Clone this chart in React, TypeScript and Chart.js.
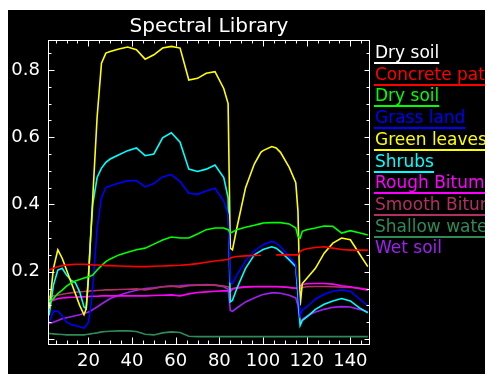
import React, { useEffect, useRef } from "react";
import { Chart, registerables } from "chart.js";

Chart.register(...registerables);

const TITLE = "Spectral Library";

const BANDS = [2, 4, 6, 8, 10, 12, 14, 16, 18, 19, 20, 21, 22, 24, 26, 28, 30, 34, 38, 42, 46, 50, 54, 58, 62, 66, 70, 74, 78, 82, 84, 85, 86, 88, 92, 96, 99, 100, 104, 106, 108, 112, 115, 116, 117, 118, 120, 124, 128, 132, 136, 140, 144, 148];

const CONCRETE_PATH = [0.205, 0.21, 0.215, 0.218, 0.22, 0.221, 0.222, 0.222, 0.222, 0.222, 0.221, 0.221, 0.22, 0.22, 0.219, 0.218, 0.218, 0.217, 0.216, 0.215, 0.215, 0.216, 0.217, 0.218, 0.219, 0.221, 0.224, 0.228, 0.232, 0.235, 0.236, 0.24, 0.243, 0.245, 0.247, 0.248, 0.249, null, null, 0.25, 0.25, 0.25, 0.25, 0.25, 0.26, 0.264, 0.268, 0.272, 0.274, 0.27, 0.266, 0.264, 0.264, 0.264];

const DRY_SOIL = [0.11, 0.12, 0.135, 0.145, 0.157, 0.166, 0.172, 0.177, 0.181, 0.183, 0.185, 0.187, 0.19, 0.205, 0.218, 0.23, 0.238, 0.25, 0.258, 0.265, 0.27, 0.282, 0.294, 0.303, 0.3, 0.3, 0.312, 0.325, 0.33, 0.33, 0.325, 0.315, 0.318, 0.325, 0.332, 0.338, 0.343, 0.345, 0.346, 0.346, 0.346, 0.342, 0.33, 0.305, 0.3, 0.32, 0.325, 0.33, 0.336, 0.335, 0.315, 0.322, 0.316, 0.309];

const GRASS_LAND = [0.05, 0.082, 0.083, 0.068, 0.05, 0.043, 0.04, 0.036, 0.032, 0.04, 0.05, 0.09, 0.15, 0.33, 0.42, 0.45, 0.455, 0.464, 0.47, 0.471, 0.452, 0.462, 0.482, 0.489, 0.468, 0.433, 0.43, 0.44, 0.448, 0.41, 0.37, 0.17, 0.165, 0.19, 0.232, 0.262, 0.275, 0.28, 0.29, 0.285, 0.275, 0.245, 0.222, 0.16, 0.07, 0.085, 0.095, 0.118, 0.133, 0.142, 0.146, 0.142, 0.12, 0.098];

const GREEN_LEAVES = [0.09, 0.21, 0.265, 0.24, 0.205, 0.17, 0.135, 0.1, 0.072, 0.09, 0.18, 0.3, 0.42, 0.66, 0.82, 0.85, 0.855, 0.862, 0.868, 0.86, 0.832, 0.845, 0.865, 0.87, 0.865, 0.77, 0.775, 0.79, 0.795, 0.745, 0.7, 0.27, 0.265, 0.33, 0.45, 0.52, 0.555, 0.56, 0.572, 0.568, 0.555, 0.51, 0.465, 0.38, 0.1, 0.165, 0.18, 0.21, 0.255, 0.285, 0.3, 0.295, 0.255, 0.215];

const SHRUBS = [0.07, 0.16, 0.205, 0.21, 0.19, 0.175, 0.168, 0.14, 0.095, 0.09, 0.18, 0.3, 0.4, 0.48, 0.508, 0.525, 0.535, 0.548, 0.56, 0.568, 0.545, 0.55, 0.598, 0.613, 0.585, 0.505, 0.498, 0.505, 0.517, 0.48, 0.42, 0.11, 0.115, 0.15, 0.21, 0.25, 0.262, 0.266, 0.274, 0.27, 0.26, 0.235, 0.215, 0.13, 0.04, 0.055, 0.065, 0.088, 0.103, 0.113, 0.12, 0.113, 0.093, 0.078];

const ROUGH_BITUMEN = [0.11, 0.115, 0.12, 0.122, 0.123, 0.124, 0.124, 0.125, 0.125, 0.126, 0.126, 0.127, 0.127, 0.127, 0.128, 0.128, 0.128, 0.128, 0.128, 0.128, 0.128, 0.129, 0.13, 0.131, 0.128, 0.134, 0.138, 0.14, 0.142, 0.143, 0.143, 0.14, 0.148, 0.152, 0.155, 0.156, 0.156, 0.156, 0.156, 0.156, 0.155, 0.153, 0.151, 0.15, 0.158, 0.162, 0.164, 0.165, 0.165, 0.163, 0.158, 0.155, 0.15, 0.145];

const SMOOTH_BITUMEN = [0.125, 0.128, 0.13, 0.133, 0.135, 0.137, 0.139, 0.14, 0.141, 0.142, 0.142, 0.143, 0.143, 0.144, 0.145, 0.146, 0.146, 0.147, 0.148, 0.149, 0.146, 0.15, 0.155, 0.157, 0.154, 0.158, 0.16, 0.16, 0.16, 0.157, 0.155, 0.147, 0.15, 0.152, 0.154, 0.155, 0.155, 0.155, 0.155, 0.155, 0.155, 0.153, 0.151, 0.15, 0.151, 0.153, 0.155, 0.156, 0.156, 0.155, 0.154, 0.153, 0.151, 0.148];

const SHALLOW_WATER = [0.016, 0.015, 0.014, 0.013, 0.012, 0.012, 0.012, 0.012, 0.012, 0.013, 0.014, 0.015, 0.016, 0.018, 0.021, 0.022, 0.023, 0.024, 0.024, 0.022, 0.014, 0.012, 0.018, 0.021, 0.019, 0.008, 0.007, 0.007, 0.007, 0.007, 0.007, 0.007, 0.007, 0.007, 0.007, 0.007, 0.007, 0.007, 0.007, 0.007, 0.007, 0.007, 0.007, 0.007, 0.007, 0.007, 0.007, 0.007, 0.007, 0.007, 0.007, 0.007, 0.007, 0.007];

const WET_SOIL = [0.045, 0.05, 0.055, 0.06, 0.063, 0.066, 0.069, 0.072, 0.076, 0.078, 0.08, 0.083, 0.087, 0.095, 0.104, 0.112, 0.12, 0.13, 0.138, 0.145, 0.15, 0.152, 0.155, 0.157, 0.158, 0.16, 0.16, 0.162, 0.16, 0.155, 0.148, 0.085, 0.082, 0.092, 0.11, 0.122, 0.13, 0.132, 0.137, 0.137, 0.136, 0.13, 0.122, 0.1, 0.05, 0.058, 0.068, 0.08, 0.088, 0.094, 0.096, 0.095, 0.088, 0.08];

const LEGEND_LABELS = ["Dry soil", "Concrete path", "Dry soil", "Grass land", "Green leaves", "Shrubs", "Rough Bitumen", "Smooth Bitumen", "Shallow water", "Wet soil"];
const LEGEND_COLORS = ["#ffffff", "#ff0000", "#00ff00", "#0000ff", "#ffff00", "#00ffff", "#ff00ff", "#b03060", "#2e8b57", "#a020f0"];
const LEGEND_UNDERLINED = [true, true, true, true, true, true, true, true, true, false];

const X_TICKS = [20, 40, 60, 80, 100, 120, 140];
const X_MINOR_TICKS = [5, 10, 15, 25, 30, 35, 45, 50, 55, 65, 70, 75, 85, 90, 95, 105, 110, 115, 125, 130, 135, 145];
const Y_TICKS = [0.2, 0.4, 0.6, 0.8];
const Y_MAJOR_MARKS = [0, 0.2, 0.4, 0.6, 0.8];
const Y_MINOR_TICKS = [0.05, 0.1, 0.15, 0.25, 0.3, 0.35, 0.45, 0.5, 0.55, 0.65, 0.7, 0.75, 0.85];

const SERIES = [
  { label: "Concrete path", values: CONCRETE_PATH, color: "#ff0000" },
  { label: "Dry soil", values: DRY_SOIL, color: "#00ff00" },
  { label: "Grass land", values: GRASS_LAND, color: "#0000ff" },
  { label: "Green leaves", values: GREEN_LEAVES, color: "#ffff00" },
  { label: "Shrubs", values: SHRUBS, color: "#00ffff" },
  { label: "Rough Bitumen", values: ROUGH_BITUMEN, color: "#ff00ff" },
  { label: "Smooth Bitumen", values: SMOOTH_BITUMEN, color: "#b03060" },
  { label: "Shallow water", values: SHALLOW_WATER, color: "#2e8b57" },
  { label: "Wet soil", values: WET_SOIL, color: "#a020f0" },
];

const FONT = "'DejaVu Sans', sans-serif";

const framePlugin = {
  id: "idlFrame",
  afterDatasetsDraw(chart: any) {
    const { ctx, chartArea: a, scales } = chart;
    const xs = scales.x;
    const ys = scales.y;
    const L = Math.round(a.left) + 0.5;
    const R = Math.round(a.right) - 0.5;
    const T = Math.round(a.top) + 0.5;
    const B = Math.round(a.bottom) - 0.5;
    ctx.save();
    ctx.strokeStyle = "#ffffff";
    ctx.lineWidth = 1;
    ctx.strokeRect(L, T, R - L, B - T);
    ctx.beginPath();
    const xMark = (v: number, lb: number, lt: number) => {
      const p = Math.round(xs.getPixelForValue(v)) + 0.5;
      ctx.moveTo(p, B);
      ctx.lineTo(p, B - lb);
      ctx.moveTo(p, T);
      ctx.lineTo(p, T + lt);
    };
    const yMark = (v: number, ll: number, lr: number) => {
      const p = Math.round(ys.getPixelForValue(v)) + 0.5;
      ctx.moveTo(L, p);
      ctx.lineTo(L + ll, p);
      ctx.moveTo(R, p);
      ctx.lineTo(R - lr, p);
    };
    X_TICKS.forEach((v) => xMark(v, 7, 6));
    X_MINOR_TICKS.forEach((v) => xMark(v, 4, 3));
    Y_MAJOR_MARKS.forEach((v) => yMark(v, 6, 5));
    Y_MINOR_TICKS.forEach((v) => yMark(v, 3, 3));
    ctx.stroke();

    ctx.fillStyle = "#ffffff";
    ctx.font = "20px " + FONT;
    ctx.textAlign = "center";
    ctx.textBaseline = "alphabetic";
    ctx.fillText(TITLE, (a.left + a.right) / 2, 22);

    ctx.font = "17px " + FONT;
    ctx.textAlign = "left";
    const lx = a.right + 5;
    LEGEND_LABELS.forEach((label, i) => {
      const base = 48 + 21.7 * i;
      ctx.fillStyle = LEGEND_COLORS[i];
      ctx.fillText(label, lx, base);
      if (LEGEND_UNDERLINED[i]) {
        const w = ctx.measureText(label).width;
        ctx.fillRect(lx - 1, Math.round(base + 4), w + 1, 2);
      }
    });
    ctx.restore();
  },
};

export default function App() {
  const ref = useRef<HTMLCanvasElement | null>(null);
  useEffect(() => {
    if (!ref.current) return;
    const chart = new Chart(ref.current, {
      type: "line",
      data: {
        datasets: SERIES.map((s) => ({
          label: s.label,
          data: BANDS.map((b, i) => ({ x: b, y: s.values[i] })),
          borderColor: s.color,
          backgroundColor: s.color,
          borderWidth: 1.6,
          pointRadius: 0,
          tension: 0,
          spanGaps: false,
          fill: false,
        })),
      },
      options: {
        responsive: false,
        animation: false,
        events: [],
        layout: { padding: { top: 30, right: 123, left: 0, bottom: 0 } },
        plugins: { legend: { display: false }, title: { display: false }, tooltip: { enabled: false } },
        scales: {
          x: {
            type: "linear",
            min: 1.5,
            max: 149,
            grid: { display: false, drawTicks: false },
            border: { display: false },
            ticks: { color: "#ffffff", font: { family: FONT, size: 18 }, padding: 6, maxRotation: 0, autoSkip: false, callback: (v: any) => String(v) },
            afterBuildTicks: (s: any) => { s.ticks = X_TICKS.map((v) => ({ value: v })); },
            afterFit: (s: any) => { s.height = 29; },
          },
          y: {
            type: "linear",
            min: -0.018,
            max: 0.889,
            grid: { display: false, drawTicks: false },
            border: { display: false },
            ticks: { color: "#ffffff", font: { family: FONT, size: 18 }, padding: 8, autoSkip: false, callback: (v: any) => Number(v).toFixed(1) },
            afterBuildTicks: (s: any) => { s.ticks = Y_TICKS.map((v) => ({ value: v })); },
            afterFit: (s: any) => { s.width = 40; },
          },
        },
      },
      plugins: [framePlugin],
    });
    return () => chart.destroy();
  }, []);
  return (
    <div style={{ marginTop: 2, width: 485, height: 364, background: "#000", overflow: "hidden" }}>
      <canvas ref={ref} width={485} height={364} style={{ display: "block" }} />
    </div>
  );
}
